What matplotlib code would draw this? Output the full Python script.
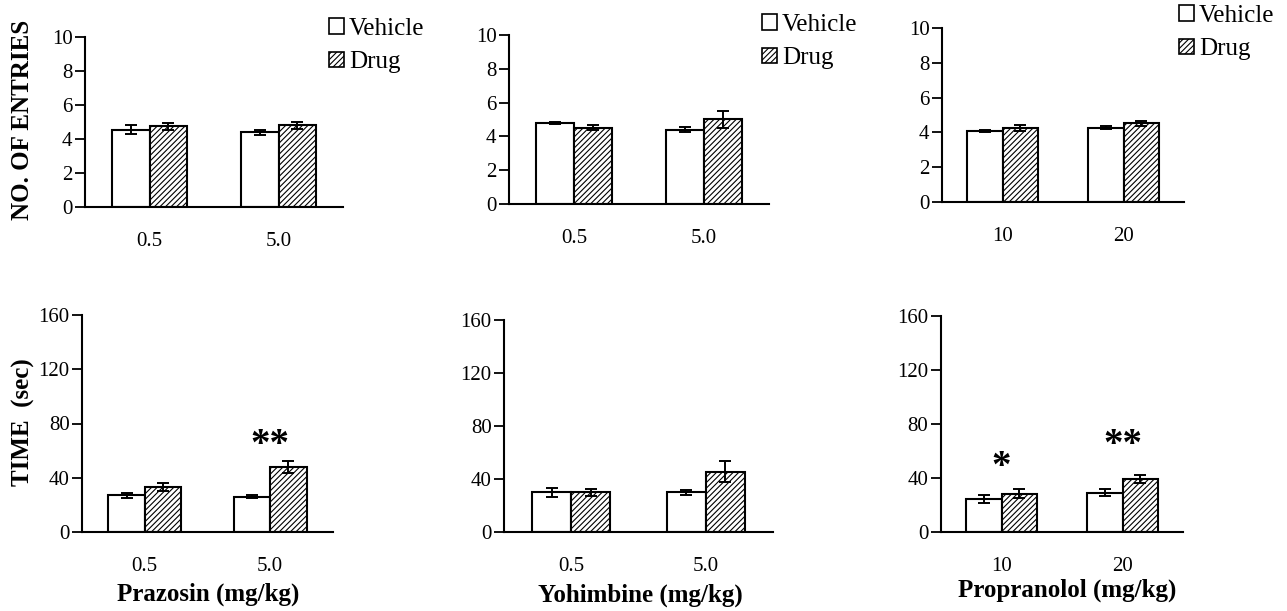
# bar charts: vehicle vs drug, entries and time, for three adrenergic drugs
import matplotlib
matplotlib.use('Agg')
import matplotlib.pyplot as plt
from matplotlib.patches import Patch
import numpy as np

plt.rcParams['font.family'] = ['Liberation Serif', 'DejaVu Serif']
plt.rcParams['hatch.linewidth'] = 0.8

# data ------------------>
drugs = ['Prazosin', 'Yohimbine', 'Propranolol']
doses = [['0.5', '5.0'], ['0.5', '5.0'], ['10', '20']]

# number of entries (mean, sem)
entries_vehicle = [[4.55, 4.4], [4.8, 4.4], [4.1, 4.27]]
entries_vehicle_err = [[0.25, 0.15], [0.08, 0.15], [0.05, 0.08]]
entries_drug = [[4.75, 4.8], [4.5, 5.0], [4.25, 4.52]]
entries_drug_err = [[0.2, 0.22], [0.15, 0.48], [0.15, 0.15]]

# time (sec)
time_vehicle = [[27, 26], [30, 30], [24.5, 29]]
time_vehicle_err = [[2, 1], [3.5, 2], [3, 2.5]]
time_drug = [[33, 48], [30, 45.5], [28.5, 39.5]]
time_drug_err = [[3, 4.5], [2.5, 8], [3, 3]]

# significance marks: (panel, dose index, label, y position)
stars = [(0, 1, '**', 64), (2, 0, '*', 48), (2, 1, '**', 64)]

# layout (pixel boxes: left, top, right, bottom) ------------------>
W, H = 1287, 611
top_boxes = [(85, 37, 343, 207), (509, 35, 769, 204), (942, 28, 1184, 202)]
bottom_boxes = [(82, 315, 333, 532), (504, 320, 773, 532), (941, 316, 1183, 532)]
legend_pos = [(329, 18), (762, 14), (1179, 5)]
xlabel_pos = [(208, 594), (640, 595), (1067, 590)]

fig = plt.figure(figsize=(W / 100, H / 100), dpi=100)


def make_ax(box):
    l, t, r, b = box
    return fig.add_axes([l / W, 1 - b / H, (r - l) / W, (b - t) / H])


def style(ax, ymax, step, labels):
    ax.set_xlim(-0.5, 1.5)
    ax.set_ylim(0, ymax)
    ax.set_yticks(np.arange(0, ymax + 1, step))
    ax.set_xticks([0, 1])
    ax.set_xticklabels(labels)
    ax.tick_params(axis='x', length=0, pad=18, labelsize=15)
    ax.tick_params(axis='y', direction='out', length=7, width=1.3, labelsize=15, pad=2)
    for s in ['top', 'right']:
        ax.spines[s].set_visible(False)
    for s in ['left', 'bottom']:
        ax.spines[s].set_linewidth(1.5)


def draw_bars(ax, veh, veh_err, drg, drg_err):
    x = np.arange(2)
    w = 0.29
    ekw = dict(ecolor='black', elinewidth=1.4, capsize=4, capthick=1.4)
    ax.bar(x - w / 2, veh, w, yerr=veh_err, color='white', edgecolor='black',
           linewidth=1.5, error_kw=ekw)
    ax.bar(x + w / 2, drg, w, yerr=drg_err, color='white', edgecolor='black',
           linewidth=1.5, hatch='//////', error_kw=ekw)


for i in range(3):
    # top row: entries
    ax = make_ax(top_boxes[i])
    draw_bars(ax, entries_vehicle[i], entries_vehicle_err[i], entries_drug[i], entries_drug_err[i])
    style(ax, 10, 2, doses[i])
    handles = [Patch(facecolor='white', edgecolor='black', linewidth=1.2),
               Patch(facecolor='white', edgecolor='black', linewidth=1.2, hatch='//////')]
    lx, ly = legend_pos[i]
    fig.legend(handles, ['Vehicle', 'Drug'], loc='upper left',
               bbox_to_anchor=(lx / W, 1 - ly / H), frameon=False, fontsize=18,
               handlelength=0.6, handleheight=0.6, handletextpad=0.2,
               labelspacing=0.45, borderaxespad=0, borderpad=0)

    # bottom row: time
    ax = make_ax(bottom_boxes[i])
    draw_bars(ax, time_vehicle[i], time_vehicle_err[i], time_drug[i], time_drug_err[i])
    style(ax, 160, 40, doses[i])
    for p, d, lab, yy in stars:
        if p == i:
            ax.text(d, yy, lab, ha='center', va='center', fontsize=28, fontweight='bold')

    xx, yy = xlabel_pos[i]
    fig.text(xx / W, 1 - yy / H, drugs[i] + ' (mg/kg)', ha='center', va='center',
             fontsize=18, fontweight='bold')

# y axis titles
fig.text(23 / W, 1 - 120 / H, 'NO. OF ENTRIES', rotation=90, ha='center', va='center',
         fontsize=18, fontweight='bold')
fig.text(23 / W, 1 - 422 / H, 'TIME  (sec)', rotation=90, ha='center', va='center',
         fontsize=18, fontweight='bold')

fig.savefig('out.png', dpi=100)
